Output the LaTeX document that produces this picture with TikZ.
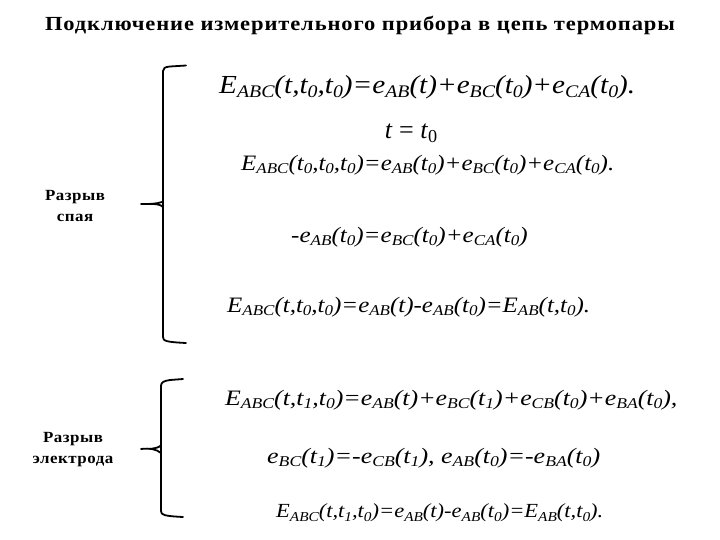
\documentclass[tikz,border=0pt]{standalone}
\usepackage{graphicx}
\usepackage{fontspec}
\setmainfont{Liberation Serif}
\newcommand{\sbx}[1]{\raisebox{-0.36ex}{\scalebox{0.68}{#1}}}
\newcommand{\widen}[2]{\scalebox{#1}[1]{#2}}
\tikzset{
  x=1pt,y=-1pt,
  eq/.style={anchor=west,inner sep=0pt,font=\itshape\fontsize{#1}{#1}\selectfont},
  lab/.style={align=center,inner sep=0pt,font=\bfseries\fontsize{15.5}{21}\selectfont\addfontfeature{LetterSpace=3}},
  brace/.style={line width=1.8pt,line cap=round,line join=round,black}
}
\begin{document}
\begin{tikzpicture}
\useasboundingbox (0,0) rectangle (720,540);
\node[inner sep=0pt,font=\bfseries\fontsize{20}{22}\selectfont\addfontfeature{LetterSpace=4}] (title) at (360,25) {\widen{1.125}{Подключение измерительного прибора в цепь термопары}};
\node[lab] (l1) at (75,206) {\widen{1.09}{Разрыв}\\\widen{1.09}{спая}};
\node[lab] (l2) at (73,450) {\widen{1.09}{Разрыв}\\\widen{1.09}{электрода}};

\draw[brace] (186,65.5) -- (170,66.5) .. controls (165,67) and (163,68) .. (163,71) -- (163,337) .. controls (163,341) and (166,342) .. (186,343);
\draw[brace] (141,204) .. controls (150,204) and (156,204) .. (162,202);
\draw[brace] (150,204) .. controls (155,204) and (160,204) .. (163,207);
\draw[brace] (183,379) -- (170,380) .. controls (164,381) and (161,382) .. (161,386) -- (161,511) .. controls (161,515) and (164,516) .. (183,517);
\draw[brace] (141,449) .. controls (150,448) and (156,449) .. (161,453);
\draw[brace] (161,445) .. controls (160,447) and (157,448) .. (150,449);

\node[eq=26] (e1) at (219,87) {\widen{1.122}{E\sbx{ABC}(t,t\sbx{0},t\sbx{0})=e\sbx{AB}(t)+e\sbx{BC}(t\sbx{0})+e\sbx{CA}(t\sbx{0}).}};
\node[inner sep=0pt,font=\fontsize{26}{26}\selectfont] (cond) at (411,133) {\textit{t} = \textit{t}\raisebox{-0.3ex}{\scalebox{0.7}{0}}};
\node[eq=22] (e2) at (241,165) {\widen{1.135}{E\sbx{ABC}(t\sbx{0},t\sbx{0},t\sbx{0})=e\sbx{AB}(t\sbx{0})+e\sbx{BC}(t\sbx{0})+e\sbx{CA}(t\sbx{0}).}};
\node[eq=22] (e3) at (291,237) {\widen{1.14}{-e\sbx{AB}(t\sbx{0})=e\sbx{BC}(t\sbx{0})+e\sbx{CA}(t\sbx{0})}};
\node[eq=22] (e4) at (227,307) {\widen{1.135}{E\sbx{ABC}(t,t\sbx{0},t\sbx{0})=e\sbx{AB}(t)-e\sbx{AB}(t\sbx{0})=E\sbx{AB}(t,t\sbx{0}).}};
\node[eq=22] (e5) at (225,400) {\widen{1.175}{E\sbx{ABC}(t,t\sbx{1},t\sbx{0})=e\sbx{AB}(t)+e\sbx{BC}(t\sbx{1})+e\sbx{CB}(t\sbx{0})+e\sbx{BA}(t\sbx{0}),}};
\node[eq=22] (e6) at (267,458) {\widen{1.18}{e\sbx{BC}(t\sbx{1})=-e\sbx{CB}(t\sbx{1}), e\sbx{AB}(t\sbx{0})=-e\sbx{BA}(t\sbx{0})}};
\node[eq=20] (e7) at (276,513) {\widen{1.125}{E\sbx{ABC}(t,t\sbx{1},t\sbx{0})=e\sbx{AB}(t)-e\sbx{AB}(t\sbx{0})=E\sbx{AB}(t,t\sbx{0}).}};
\end{tikzpicture}
\end{document}
